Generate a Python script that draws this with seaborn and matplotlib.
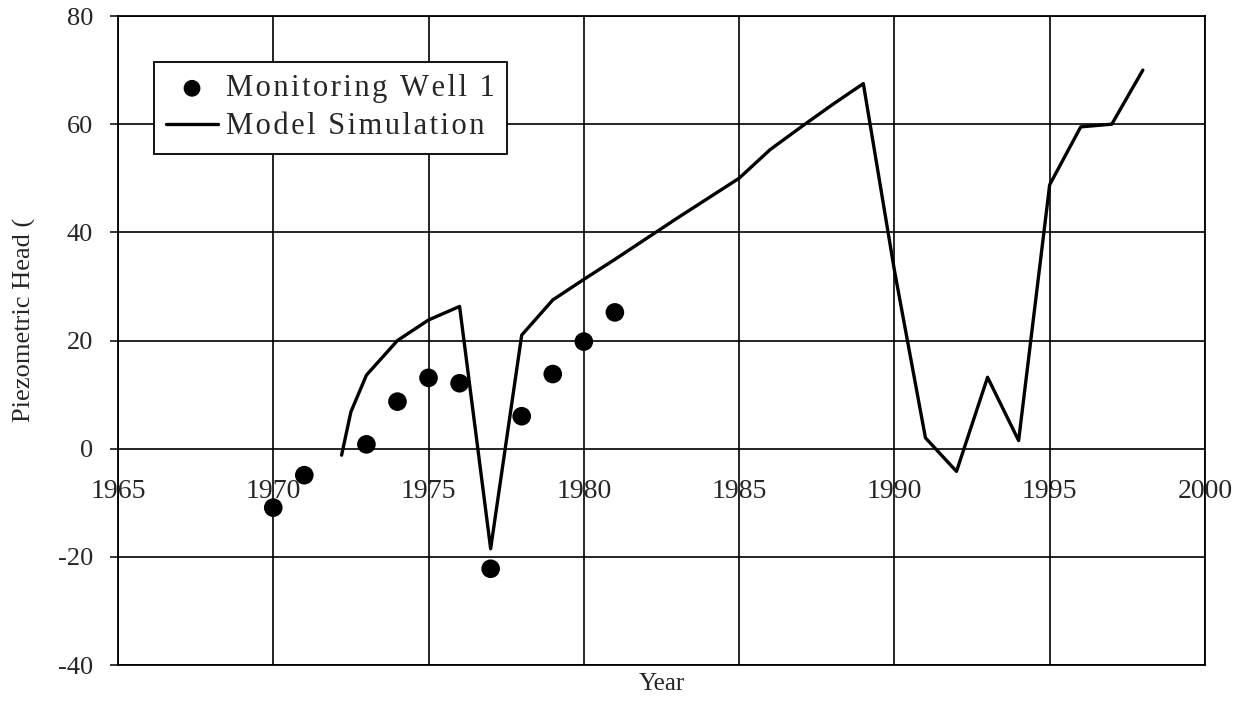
import numpy as np
import pandas as pd
import seaborn as sns
import matplotlib
matplotlib.use("Agg")
import matplotlib.pyplot as plt

# observed heads at the monitoring well
well_years = [1970, 1971, 1973, 1974, 1975, 1976, 1977, 1978, 1979, 1980, 1981]
well_head = [-10.9, -4.9, 0.8, 8.7, 13.1, 12.1, -22.2, 6.0, 13.8, 19.8, 25.2]

# simulated heads
model_years = [1972.2, 1972.5, 1973, 1974, 1975, 1976, 1977, 1978, 1979, 1980,
               1981, 1982, 1983, 1984, 1985, 1986, 1987, 1988, 1989, 1990,
               1991, 1992, 1993, 1994, 1995, 1996, 1997, 1998]
model_head = [-1.2, 6.8, 13.6, 20.0, 23.8, 26.3, -18.5, 21.0, 27.5, 31.3,
              35.0, 38.8, 42.6, 46.3, 50.0, 55.3, 59.5, 63.6, 67.5, 33.0,
              2.0, -4.2, 13.2, 1.5, 48.8, 59.5, 60.0, 70.0]

x_ticks = [1965, 1970, 1975, 1980, 1985, 1990, 1995, 2000]
y_ticks = [-40, -20, 0, 20, 40, 60, 80]

well_label = "Monitoring Well 1"
model_label = "Model Simulation"

well = pd.DataFrame({"year": well_years, "head": well_head})
model = pd.DataFrame({"year": model_years, "head": model_head})

sns.set_style("white")
plt.rcParams["font.family"] = ["Liberation Serif", "DejaVu Serif"]
plt.rcParams["axes.unicode_minus"] = False

fig = plt.figure(figsize=(12.43, 7.08), dpi=100)
ax = fig.add_axes([0.0949, 0.0607, 0.8745, 0.9167])

hair = "\u200a"
sns.scatterplot(data=well, x="year", y="head", ax=ax, color="black", s=180,
                edgecolor="none", label=hair.join(well_label), zorder=4)
sns.lineplot(data=model, x="year", y="head", ax=ax, color="black", linewidth=2.4,
             label=hair.join(model_label), zorder=3)

ax.set_xlim(x_ticks[0], x_ticks[-1])
ax.set_ylim(y_ticks[0], y_ticks[-1])
ax.set_xticks(x_ticks)
ax.set_yticks(y_ticks)
ax.grid(True, color="black", linewidth=1.2)
ax.set_axisbelow(True)
for sp in ax.spines.values():
    sp.set_color("black")
    sp.set_linewidth(1.3)

ax.tick_params(axis="x", length=0, labelbottom=False)
ax.tick_params(axis="y", direction="out", length=6, width=1.1, color="black",
               pad=12, labelsize=19, left=True)

# year labels sit along the zero line
zero_frac = (0 - y_ticks[0]) / (y_ticks[-1] - y_ticks[0])
sec = ax.secondary_xaxis(zero_frac)
sec.set_xticks(x_ticks)
sec.tick_params(length=0, pad=22, labelsize=20)
sec.spines["bottom"].set_visible(False)

ax.set_xlabel("Year", fontsize=18, labelpad=6)
ax.set_ylabel("")
fig.text(24 / 1243, 1 - 320 / 708, "Piezometric Head (", rotation=90,
         ha="center", va="center", fontsize=19)

leg = ax.legend(loc="upper left", bbox_to_anchor=(0.033, 0.929), borderaxespad=0,
                fontsize=22, frameon=True, fancybox=False, edgecolor="black",
                framealpha=1, handlelength=1.7, handletextpad=0.25,
                labelspacing=0.3, borderpad=0.4, markerscale=0.9)
leg.get_frame().set_linewidth(1.3)

fig.savefig("out.png", dpi=100)
